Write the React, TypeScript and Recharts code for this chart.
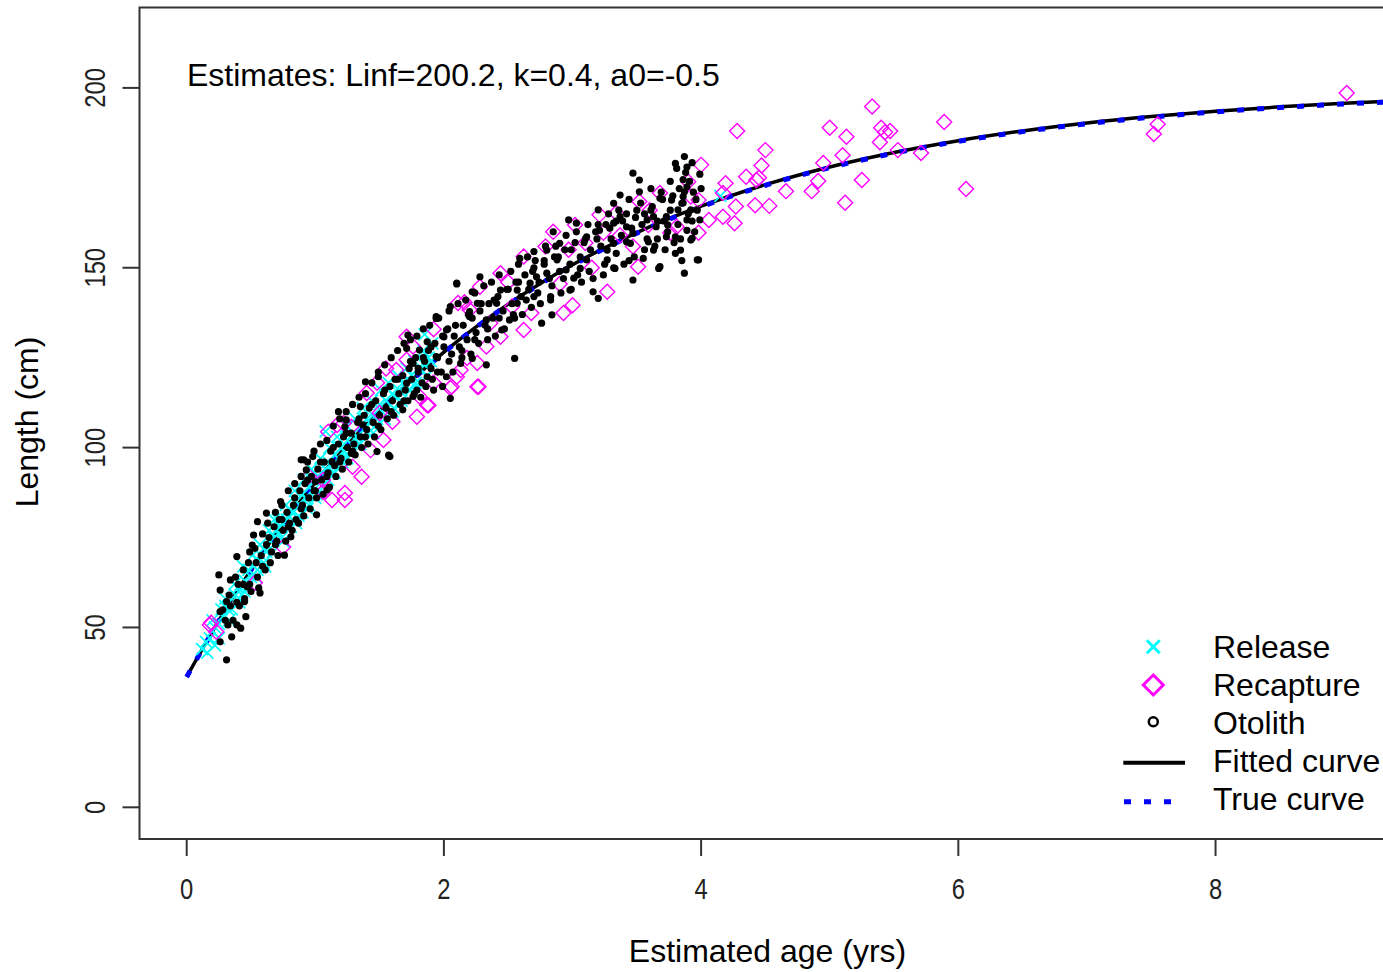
import React from 'react';
import { ComposedChart, Scatter, Line, XAxis, YAxis, ReferenceArea, Legend } from 'recharts';

const X_TICKS = [0, 2, 4, 6, 8];
const Y_TICKS = [0, 50, 100, 150, 200];
const X_DOMAIN: [number, number] = [-0.367, 9.31];
const Y_DOMAIN: [number, number] = [-8.81, 222.35];

const TITLE_X = 'Estimated age (yrs)';
const TITLE_Y = 'Length (cm)';
const ANNOTATION = 'Estimates: Linf=200.2, k=0.4, a0=-0.5';
const LEGEND_LABELS = ['Release', 'Recapture', 'Otolith', 'Fitted curve', 'True curve'];

const CURVE_AGE = [0, 0.25, 0.5, 0.75, 1, 1.25, 1.5, 1.75, 2, 2.25, 2.5, 2.75, 3, 3.25, 3.5, 3.75, 4, 4.5, 5, 5.5, 6, 6.5, 7, 7.5, 8, 8.5, 9, 9.31];
const FITTED_LEN = [36.29, 51.89, 66.0, 78.77, 90.33, 100.78, 110.24, 118.8, 126.55, 133.56, 139.9, 145.64, 150.83, 155.53, 159.78, 163.63, 167.11, 173.1, 178.02, 182.04, 185.33, 188.03, 190.23, 192.04, 193.52, 194.73, 195.72, 196.24];
const TRUE_LEN = [36.25, 51.84, 65.93, 78.69, 90.24, 100.68, 110.13, 118.69, 126.42, 133.43, 139.76, 145.49, 150.68, 155.37, 159.62, 163.46, 166.94, 172.93, 177.84, 181.86, 185.15, 187.84, 190.04, 191.85, 193.33, 194.54, 195.53, 196.05];

const RELEASE: [number, number][] = [
  [0.15, 46], [0.18, 47], [0.2, 49], [0.22, 50], [0.25, 51], [0.28, 53], [0.3, 56], [0.32, 55], [0.35, 58], [0.38, 59],
  [0.4, 61], [0.42, 62], [0.45, 63], [0.48, 66], [0.5, 64], [0.52, 67], [0.55, 69], [0.58, 70], [0.6, 72], [0.62, 71],
  [0.65, 74], [0.68, 75], [0.7, 77], [0.72, 78], [0.75, 79], [0.78, 80], [0.8, 83], [0.82, 82], [0.85, 85], [0.88, 84],
  [0.9, 87], [0.92, 86], [0.95, 89], [0.98, 88], [1.0, 91], [1.02, 92], [1.05, 93], [1.08, 94], [1.1, 96], [1.12, 95],
  [1.15, 98], [1.18, 97], [1.2, 100], [1.22, 99], [1.25, 102], [1.28, 101], [1.3, 104], [1.32, 103], [1.35, 106], [1.38, 105],
  [1.4, 108], [1.42, 107], [1.45, 109], [1.48, 108], [1.5, 112], [1.52, 110], [1.55, 113], [1.58, 112], [1.6, 115], [1.62, 114],
  [1.65, 116], [1.68, 118], [1.7, 117], [1.72, 119], [1.75, 120], [1.78, 118], [1.8, 122], [1.85, 123], [1.88, 125], [1.9, 124],
  [0.22, 45], [0.35, 55], [0.6, 68], [0.85, 79], [1.1, 91], [0.95, 84], [1.0, 86], [0.75, 74], [1.08, 104.5], [1.85, 131.5],
  [4.15, 170], [0.68, 80], [0.45, 60], [1.25, 97], [1.45, 104], [1.6, 110], [0.9, 82], [1.35, 101], [0.55, 66], [1.15, 93],
  [0.2, 52], [0.25, 47], [0.3, 58], [0.33, 52], [0.37, 62], [0.41, 57], [0.44, 67], [0.47, 61], [0.51, 70], [0.54, 64],
  [0.57, 73], [0.61, 67], [0.64, 77], [0.67, 71], [0.71, 80], [0.74, 75], [0.77, 84], [0.81, 78], [0.84, 88], [0.87, 81],
  [0.91, 91], [0.94, 83], [0.97, 94], [1.01, 87], [1.04, 97], [1.07, 90], [1.11, 100], [1.14, 93], [1.17, 103], [1.21, 96],
  [1.24, 106], [1.27, 99], [1.31, 108], [1.34, 101], [1.37, 111], [1.41, 104], [1.44, 113], [1.47, 106], [1.51, 116], [1.54, 108],
  [1.57, 118], [1.61, 111], [1.64, 120], [1.67, 113], [1.71, 122], [1.74, 116], [1.77, 124], [1.81, 118], [1.84, 127], [1.87, 120],
  [1.91, 129], [0.16, 43], [0.12, 44], [0.27, 55], [0.43, 59],
];

const RECAPTURE: [number, number][] = [
  [4.28, 188.0], [5.33, 194.8], [5.0, 188.9], [5.13, 186.4], [5.4, 188.9], [5.47, 188.0], [5.43, 187.7], [5.89, 190.5], [9.02, 198.6], [7.55, 189.9],
  [7.52, 187.2], [5.39, 184.9], [4.5, 182.7], [5.53, 182.7], [5.71, 181.9], [5.1, 181.3], [4.95, 179.1], [4.47, 178.4], [4.35, 175.3], [4.45, 175.0],
  [4.43, 174.4], [4.0, 178.6], [4.19, 173.5], [4.66, 171.3], [4.86, 171.3], [4.91, 174.1], [5.25, 174.4], [6.06, 171.9], [5.12, 168.1], [4.53, 167.2],
  [4.42, 167.4], [4.27, 167.0], [4.17, 170.8], [3.98, 168.8], [4.06, 163.3], [4.17, 164.2], [4.26, 162.4],
  [3.9, 173.9], [3.68, 170.8], [3.52, 168.4], [3.98, 159.7], [3.76, 159.7], [3.51, 150.3], [3.27, 143.3], [3.0, 139.6], [2.93, 137.4], [3.21, 164.7],
  [3.34, 165.2], [3.24, 159.7], [3.02, 161.9], [3.1, 156.9], [2.97, 155.0], [2.85, 160.0], [2.79, 155.9], [2.62, 153.1], [2.44, 148.5], [2.68, 137.4],
  [2.62, 132.7], [2.44, 130.8], [2.28, 144.7], [2.2, 138.3], [2.11, 140.2], [2.33, 128.1], [2.26, 123.5], [2.13, 121.6], [2.06, 116.9], [2.27, 116.9],
  [1.88, 111.8], [1.76, 128.1], [1.71, 130.8], [1.92, 118.0], [1.81, 114.2], [1.79, 108.6], [2.18, 124.9], [2.36, 134.6], [2.53, 139.2], [3.37, 159.0],
  [3.47, 155.9], [3.59, 161.9], [3.81, 161.4], [3.92, 169.8], [1.1, 104.4], [1.17, 106.3], [1.36, 91.9], [1.06, 91.0], [1.23, 87.4], [1.87, 111.8],
  [2.05, 116.6], [2.26, 116.9], [2.1, 119.7], [1.71, 124.4], [1.63, 121.6], [1.92, 132.9], [2.16, 140.4], [1.48, 118.0], [1.4, 115.2], [1.5, 109.6],
  [1.28, 105.8], [1.43, 99.3], [1.29, 94.7], [1.23, 85.4], [1.13, 85.4], [1.06, 87.7], [0.75, 72.4], [0.53, 62.4], [0.19, 51.3], [1.53, 102.1],
  [1.6, 107.2], [1.22, 106.8], [0.18, 50.7], [0.23, 48.8], [2.5, 146.0], [2.9, 145.5], [3.15, 150.0], [3.6, 166.0], [1.55, 122.0], [0.95, 92.0],
];

const OTOLITH: [number, number][] = [
  [0.31, 41], [0.42, 49.8], [0.35, 47.4], [0.26, 46.0], [0.26, 54.4], [0.39, 50.7], [0.32, 50.7], [0.26, 60.4], [0.25, 64.6], [0.57, 59.6],
  [0.39, 69.7], [0.52, 75.7], [0.51, 72.9], [0.73, 85.0], [0.81, 75.2], [0.76, 70.1], [0.89, 96.6], [1.01, 81.3], [1.58, 97.5], [1.48, 98.9],
  [0.62, 81.8], [0.55, 79.4], [0.47, 61.3], [0.34, 63.2], [0.31, 57.2], [0.28, 54.9], [0.45, 57.2], [1.0, 90.5], [0.93, 93.8], [1.09, 88.2],
  [1.13, 96.1], [1.28, 98.4], [1.23, 105.8], [1.37, 106.3], [2.1, 145.5], [2.22, 143.3], [1.94, 136.4], [2.02, 132.7], [1.72, 131.3], [1.71, 127.6],
  [1.39, 118.3], [1.49, 119.7], [1.18, 110.0], [0.91, 96.6], [0.98, 97.5], [1.57, 97.9], [2.05, 113.7], [2.22, 124.8], [1.8, 122.0], [1.68, 110.5],
  [1.35, 111.4], [1.24, 107.7], [1.87, 129.4], [2.2, 137.8], [3.87, 180.9], [3.8, 179.0], [3.81, 177.6], [3.93, 179.2], [3.47, 176.3], [3.52, 174.4],
  [3.52, 171.1], [3.37, 170.2], [3.32, 167.9], [3.2, 166.1], [2.97, 163.3], [3.03, 162.4], [2.85, 160.0], [2.7, 154.5], [2.59, 152.6], [2.28, 147.5],
  [2.1, 145.7], [1.94, 135.9], [2.05, 139.2], [3.98, 152.2], [3.87, 148.5], [3.67, 149.8], [3.47, 146.6], [3.2, 141.5], [3.16, 143.3], [2.84, 136.9],
  [2.76, 134.6], [2.55, 124.8], [2.33, 123.0], [2.45, 132.7], [3.82, 166.1], [3.89, 160.4], [3.92, 157.7], [3.84, 154.9], [3.63, 154.9], [3.65, 161.4],
  [3.58, 163.3], [3.32, 156.8], [3.27, 154.9], [3.11, 152.2], [3.06, 149.8], [2.95, 149.4], [2.8, 148.5], [2.72, 147.5], [2.67, 145.7], [2.57, 143.8],
  [2.44, 143.8], [2.41, 140.1], [2.26, 140.1], [2.2, 136.4], [2.33, 135.5], [2.51, 135.5], [2.57, 140.1], [2.7, 142.0], [2.83, 142.0], [2.98, 143.8],
  [3.01, 147.1], [2.88, 152.2], [2.8, 154.9], [2.9, 156.8], [3.11, 158.6], [3.21, 160.4], [3.42, 161.4], [3.47, 159.6], [3.45, 156.8], [3.73, 158.6],
  [3.73, 164.2], [3.89, 163.3], [3.99, 163.3], [2.0, 130.8], [1.81, 127.1], [1.76, 123.4], [1.87, 119.7], [2.02, 119.7], [2.13, 123.4], [1.94, 125.3],
  [1.71, 117.9], [1.76, 114.2], [1.92, 116.0], [3.68, 169.3], [3.77, 168.8], [3.89, 172.5], [3.87, 171.1], [3.86, 169.8], [3.85, 167.9], [3.92, 166.1],
  [3.97, 152.2], [3.68, 150.3], [3.8, 154.0], [3.93, 158.2], [3.32, 162.4], [3.37, 164.2], [3.63, 164.2], [3.74, 161.9], [3.8, 158.6], [3.59, 157.2],
  [3.42, 157.2], [3.27, 152.2], [3.33, 149.8], [3.55, 152.6], [3.86, 174.5], [3.88, 176.5],
  [0.4, 62], [0.45, 58], [0.48, 68], [0.55, 64], [0.58, 70], [0.62, 73], [0.65, 68], [0.68, 78], [0.7, 74], [0.72, 80],
  [0.75, 77], [0.78, 82], [0.8, 79], [0.83, 84], [0.85, 80], [0.88, 88], [0.9, 84], [0.92, 90], [0.95, 86], [0.97, 92],
  [1.0, 88], [1.02, 94], [1.05, 91], [1.07, 96], [1.1, 93], [1.12, 99], [1.15, 95], [1.18, 101], [1.2, 97], [1.22, 103],
  [1.25, 100], [1.28, 104], [1.3, 101], [1.33, 107], [1.35, 103], [1.38, 109], [1.4, 105], [1.42, 111], [1.45, 107], [1.47, 113],
  [1.5, 109], [1.53, 115], [1.55, 111], [1.58, 117], [1.6, 113], [1.62, 119], [1.65, 115], [1.68, 120], [1.7, 116], [1.73, 122],
  [1.75, 119], [1.78, 125], [1.8, 121], [1.83, 118], [1.85, 124], [1.88, 127], [1.9, 122], [1.93, 129], [1.95, 125], [1.98, 121],
  [2.0, 128], [2.03, 133], [2.06, 126], [2.08, 131], [2.12, 128], [2.15, 134], [2.18, 130], [2.22, 136], [2.25, 132], [2.28, 138],
  [2.32, 134], [2.35, 140], [2.38, 136], [2.42, 142], [2.46, 138], [2.5, 144], [2.53, 140], [2.56, 146], [2.6, 142], [2.63, 148],
  [2.66, 144], [2.7, 150], [2.74, 146], [2.78, 151], [2.82, 147], [2.86, 153], [2.9, 149], [2.94, 155], [2.98, 151], [3.02, 157],
  [3.06, 153], [3.1, 158], [3.14, 155], [3.18, 160], [3.22, 156], [3.26, 162], [3.3, 158], [3.34, 163], [3.38, 159], [3.42, 165],
  [3.46, 161], [3.5, 166], [3.54, 162], [3.58, 158], [3.62, 167], [3.66, 163], [3.7, 169], [3.74, 160], [3.78, 170], [3.82, 162],
  [3.86, 168], [3.9, 165], [3.94, 171], [3.97, 166], [4.0, 172],
  [0.33, 59], [0.36, 52], [0.38, 64], [0.41, 56], [0.44, 66], [0.46, 53], [0.49, 71], [0.5, 60], [0.53, 72], [0.56, 61],
  [0.59, 76], [0.61, 66], [0.63, 79], [0.66, 71], [0.69, 82], [0.71, 70], [0.74, 84], [0.77, 74], [0.79, 88], [0.82, 77],
  [0.84, 90], [0.87, 79], [0.89, 92], [0.91, 81], [0.94, 96], [0.96, 83], [0.99, 99], [1.01, 86], [1.04, 101], [1.06, 87],
  [1.09, 102], [1.11, 89], [1.14, 106], [1.16, 92], [1.19, 108], [1.21, 94], [1.24, 110], [1.26, 96], [1.29, 112], [1.31, 98],
  [1.34, 114], [1.36, 100], [1.39, 115], [1.41, 101], [1.44, 118], [1.46, 103], [1.49, 121], [1.51, 105], [1.54, 123], [1.56, 108],
  [1.59, 125], [1.61, 109], [1.64, 127], [1.66, 112], [1.69, 129], [1.72, 113], [1.74, 130], [1.77, 115], [1.79, 131], [1.82, 114],
  [1.84, 133], [1.86, 117], [1.89, 134], [1.91, 119], [1.96, 136], [1.99, 117], [2.04, 138], [2.07, 121], [2.11, 140], [2.14, 125],
  [2.17, 141], [2.21, 126], [2.24, 143], [2.27, 129], [2.31, 145], [2.34, 130], [2.37, 146], [2.4, 131], [2.43, 148], [2.47, 133],
  [2.52, 149], [2.55, 136], [2.58, 151], [2.61, 137], [2.65, 153], [2.68, 139], [2.71, 152], [2.75, 140], [2.79, 156], [2.83, 141],
  [2.87, 156], [2.91, 143], [2.95, 159], [2.99, 144], [3.03, 160], [3.07, 146], [3.12, 162], [3.16, 147], [3.2, 162], [3.24, 148],
  [3.28, 165], [3.32, 150], [3.36, 166], [3.4, 151], [3.44, 169], [3.48, 153], [3.53, 168], [3.56, 155], [3.61, 172], [3.64, 156],
  [3.69, 171], [3.72, 155], [3.76, 174], [3.79, 157], [3.83, 172], [3.85, 152], [3.91, 174], [3.95, 160], [3.99, 176], [3.96, 169],
  [3.93, 163], [3.89, 178], [3.84, 158], [3.76, 166], [3.71, 163], [3.66, 158], [3.61, 166], [3.56, 165], [3.49, 164], [3.44, 152],
  [3.39, 163], [3.34, 154], [3.29, 161], [3.25, 151], [3.19, 158], [3.13, 149], [3.09, 157], [3.04, 148], [2.99, 155], [2.93, 147],
  [2.89, 153], [2.84, 145], [2.78, 152], [2.73, 143], [2.69, 149], [2.64, 141], [2.58, 146], [2.54, 137], [2.49, 144], [2.43, 136],
  [2.39, 141], [2.34, 133], [2.29, 140], [2.24, 130], [2.19, 137], [2.14, 127], [2.09, 134], [2.04, 124], [1.99, 131], [1.95, 121],
  [1.9, 128], [1.84, 125], [1.79, 116], [1.74, 124], [1.69, 113], [1.64, 119], [1.59, 110], [1.54, 116], [1.49, 106], [1.44, 112],
  [1.39, 103], [1.34, 108], [1.29, 99], [1.24, 104], [1.19, 96], [1.14, 100], [1.09, 92], [1.04, 96], [0.99, 88], [0.94, 91],
  [0.89, 83], [0.84, 86], [0.79, 78], [0.74, 80], [0.69, 73], [0.64, 75], [0.59, 67], [0.54, 68], [0.49, 62], [0.44, 62],
  [0.39, 57], [0.34, 56], [0.3, 52],
];

const toPoints = (arr: [number, number][]) => arr.map(([x, y]) => ({ x, y }));
const toCurve = (lens: number[]) => CURVE_AGE.map((x, i) => ({ x, y: lens[i] }));

const CYAN = '#00FFFF';
const MAGENTA = '#FF00FF';
const BLUE = '#0000FF';
const FONT = '"Liberation Sans", Arial, sans-serif';

const CrossShape = (p: any) => {
  const { cx, cy } = p;
  const s = 6;
  return (
    <g stroke={CYAN} strokeWidth={1.7}>
      <line x1={cx - s} y1={cy - s} x2={cx + s} y2={cy + s} />
      <line x1={cx - s} y1={cy + s} x2={cx + s} y2={cy - s} />
    </g>
  );
};
const DiamondShape = (p: any) => {
  const { cx, cy } = p;
  const s = 7.5;
  return <path d={`M${cx},${cy - s}L${cx + s},${cy}L${cx},${cy + s}L${cx - s},${cy}Z`} fill="none" stroke={MAGENTA} strokeWidth={1.4} />;
};
const DotShape = (p: any) => <circle cx={p.cx} cy={p.cy} r={3.6} fill="#000" />;

const XTick = (p: any) => (
  <text
    transform={`translate(${p.x},898.5) scale(0.82,1)`}
    textAnchor="middle"
    fontFamily={FONT}
    fontSize={29}
    fill="#222"
  >
    {p.payload.value}
  </text>
);
const YTick = (p: any) => (
  <text
    transform={`translate(105,${p.y}) rotate(-90) scale(0.82,1)`}
    textAnchor="middle"
    fontFamily={FONT}
    fontSize={29}
    fill="#222"
  >
    {p.payload.value}
  </text>
);

const LegendBox = () => {
  const baselines = [38.3, 76.2, 114.1, 152, 190];
  return (
    <svg width={283} height={210} style={{ display: 'block' }}>
      <g stroke={CYAN} strokeWidth={3}>
        <line x1={53.3 - 6.5} y1={26.7 - 6.5} x2={53.3 + 6.5} y2={26.7 + 6.5} />
        <line x1={53.3 - 6.5} y1={26.7 + 6.5} x2={53.3 + 6.5} y2={26.7 - 6.5} />
      </g>
      <path d="M53.3,55L63.3,65L53.3,75L43.3,65Z" fill="none" stroke={MAGENTA} strokeWidth={3} />
      <circle cx={53.3} cy={101.7} r={4.5} fill="none" stroke="#000" strokeWidth={2.5} />
      <line x1={23.3} y1={142.7} x2={85} y2={142.7} stroke="#000" strokeWidth={4} />
      <line x1={24} y1={181.7} x2={73} y2={181.7} stroke={BLUE} strokeWidth={5} strokeDasharray="7 13" />
      {LEGEND_LABELS.map((t, i) => (
        <text key={t} x={113} y={baselines[i]} fontFamily={FONT} fontSize={32} fill="#000">
          {t}
        </text>
      ))}
    </svg>
  );
};

export default function App() {
  return (
    <div style={{ position: 'absolute', left: 0, top: 0, width: 1383, height: 972, overflow: 'hidden', background: '#fff' }}>
      <ComposedChart width={1400} height={972} margin={{ top: 7.5, right: 16, bottom: 0, left: 0 }}>
        <XAxis
          type="number"
          dataKey="x"
          domain={X_DOMAIN}
          ticks={X_TICKS}
          interval={0}
          allowDataOverflow
          height={133}
          tickSize={17}
          axisLine={false}
          tickLine={{ stroke: '#333', strokeWidth: 2 }}
          tick={XTick}
        />
        <YAxis
          type="number"
          dataKey="y"
          domain={Y_DOMAIN}
          ticks={Y_TICKS}
          interval={0}
          allowDataOverflow
          width={139.5}
          tickSize={17}
          axisLine={false}
          tickLine={{ stroke: '#333', strokeWidth: 2 }}
          tick={YTick}
        />
        <Scatter name="Release" data={toPoints(RELEASE)} shape={CrossShape} isAnimationActive={false} />
        <Scatter name="Recapture" data={toPoints(RECAPTURE)} shape={DiamondShape} isAnimationActive={false} />
        <Scatter name="Otolith" data={toPoints(OTOLITH)} shape={DotShape} isAnimationActive={false} />
        <Line name="Fitted curve" data={toCurve(FITTED_LEN)} dataKey="y" type="monotone" stroke="#000" strokeWidth={3.5} dot={false} activeDot={false} isAnimationActive={false} />
        <Line name="True curve" data={toCurve(TRUE_LEN)} dataKey="y" type="monotone" stroke={BLUE} strokeWidth={5} strokeDasharray="7 13" dot={false} activeDot={false} isAnimationActive={false} />
        <ReferenceArea x1={X_DOMAIN[0]} x2={X_DOMAIN[1]} y1={Y_DOMAIN[0]} y2={Y_DOMAIN[1]} fill="none" fillOpacity={0} stroke="#333" strokeWidth={2} ifOverflow="visible" />
        <Legend
          layout="horizontal"
          verticalAlign="middle"
          align="center"
          wrapperStyle={{ position: 'absolute', left: 1100, top: 620, width: 283, height: 210 }}
          content={LegendBox}
        />
        <text x={187} y={86} fontFamily={FONT} fontSize={32} fill="#000">{ANNOTATION}</text>
        <text x={767.5} y={962} textAnchor="middle" fontFamily={FONT} fontSize={32} fill="#000">{TITLE_X}</text>
        <text transform="translate(38,422) rotate(-90)" textAnchor="middle" fontFamily={FONT} fontSize={32} fill="#000">{TITLE_Y}</text>
      </ComposedChart>
    </div>
  );
}
